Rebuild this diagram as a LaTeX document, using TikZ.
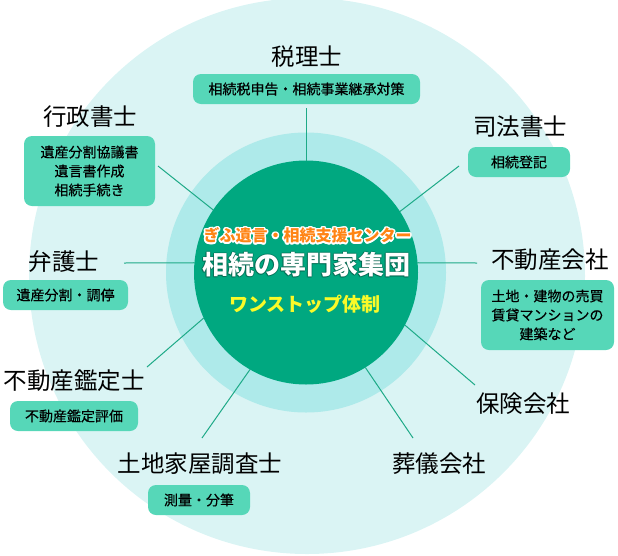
\documentclass[tikz,border=0pt]{standalone}
\usepackage{fontspec}
\setmainfont{Noto Sans CJK JP}
\newfontfamily\boxfont[FakeBold=0.4]{Noto Sans CJK JP}
\definecolor{outerc}{RGB}{218,244,244}
\definecolor{midc}{RGB}{174,234,234}
\definecolor{corec}{RGB}{0,168,128}
\definecolor{boxc}{RGB}{86,215,184}
\definecolor{linec}{RGB}{30,170,135}
\definecolor{orangec}{RGB}{255,132,20}
\definecolor{yellowc}{RGB}{250,250,40}
\definecolor{shadowc}{RGB}{0,90,70}
\begin{document}
\begin{tikzpicture}[x=1pt,y=-1pt,
  lbl/.style={inner sep=0pt,font=\fontsize{23.5}{28}\selectfont,text=black},
  infobox/.style={fill=boxc,rounded corners=8pt,inner sep=0pt,align=center,
    font=\boxfont\fontsize{14}{19}\selectfont,text=black},
  conn/.style={draw=linec,line width=1pt},
  corenode/.style={circle,fill=corec,minimum size=224pt,inner sep=0pt,outer sep=0pt},
  ctext/.style={inner sep=0pt,font=\bfseries}]
\useasboundingbox (0,0) rectangle (618,555);
\fill[outerc] (307,276) circle (278);
\fill[midc] (306,272.5) circle (140);
\node[corenode] (core) at (306,272.5) {};

% center texts
\foreach \a in {0,22.5,...,337.5}
  \node[ctext,text=white,font=\bfseries\fontsize{16}{18}\selectfont,shift={(\a:1.6)}] at (307.5,235.5) {ぎふ遺言・相続支援センター};
\node[ctext,text=orangec,font=\bfseries\fontsize{16}{18}\selectfont] (sub) at (307.5,235.5) {ぎふ遺言・相続支援センター};
\foreach \a in {0,45,...,315}
  \node[ctext,text=shadowc,opacity=0.35,font=\bfseries\fontsize{26}{30}\selectfont,shift={(\a:1)}] at (306,265) {相続の専門家集団};
\node[ctext,text=white,font=\bfseries\fontsize{26}{30}\selectfont] (title) at (306,265) {相続の専門家集団};
\node[ctext,text=yellowc,font=\bfseries\fontsize{19}{22}\selectfont] (one) at (305,304.5) {ワンストップ体制};

% labels
\node[lbl] (zeiri) at (307,57) {税理士};
\node[lbl] (gyosei) at (90,117) {行政書士};
\node[lbl] (bengo) at (64,262) {弁護士};
\node[lbl] (kantei) at (74,380.5) {不動産鑑定士};
\node[lbl] (tochi) at (200,463.5) {土地家屋調査士};
\node[lbl] (sogi) at (439,464) {葬儀会社};
\node[lbl] (hoken) at (523,403.5) {保険会社};
\node[lbl] (shiho) at (520,127) {司法書士};
\node[lbl] (fudo) at (550,260) {不動産会社};

% boxes
\node[infobox,minimum width=227pt,minimum height=30pt] (zeiribox) at (306.5,89) {相続税申告・相続事業継承対策};
\node[infobox,minimum width=131pt,minimum height=70pt] (gyoseibox) at (89.5,171) {遺産分割協議書\\遺言書作成\\相続手続き};
\node[infobox,minimum width=125pt,minimum height=30pt] (bengobox) at (65.5,295) {遺産分割・調停};
\node[infobox,minimum width=128pt,minimum height=30pt] (kanteibox) at (74,416) {不動産鑑定評価};
\node[infobox,minimum width=102pt,minimum height=30pt] (tochibox) at (199,500) {測量・分筆};
\node[infobox,minimum width=102pt,minimum height=30pt] (shihobox) at (519,162) {相続登記};
\node[infobox,minimum width=133pt,minimum height=70pt] (fudobox) at (547.5,315) {土地・建物の売買\\賃貸マンションの\\建築など};

% connector start points
\coordinate (z1) at (306,108);
\coordinate (g1) at (158,166);
\coordinate (b1) at (124,263);
\coordinate (k1) at (147,367);
\coordinate (t1) at (202,438);
\coordinate (s1) at (413,438);
\coordinate (h1) at (475,385);
\coordinate (sh1) at (459,166);
\coordinate (f1) at (477,263);

\draw[conn] (z1) -- (core.90);
\draw[conn] (g1) -- (core.146);
\draw[conn] (b1) -- (core.175);
\draw[conn] (k1) -- (core.204);
\draw[conn] (t1) -- (core.240);
\draw[conn] (s1) -- (core.302);
\draw[conn] (h1) -- (core.332);
\draw[conn] (sh1) -- (core.33);
\draw[conn] (f1) -- (core.5);
\end{tikzpicture}
\end{document}
